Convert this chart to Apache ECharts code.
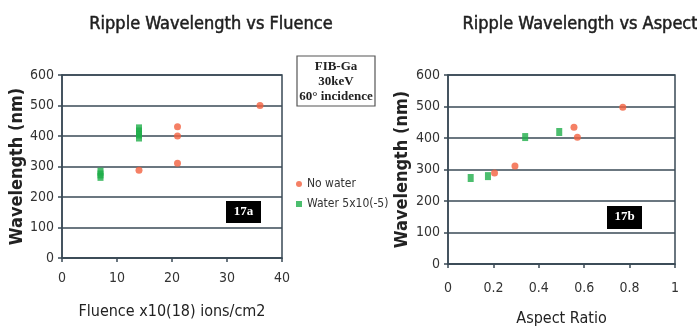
<!DOCTYPE html>
<html><head><meta charset="utf-8">
<script src="https://cdn.jsdelivr.net/npm/echarts@6/dist/echarts.min.js"></script>
<style>html,body{margin:0;padding:0;background:#fff}#c{width:697px;height:332px}</style>
</head><body><div id="c"></div>
<script>
// Left chart: Fluence
const fluenceNoWater = [[14,288],[21,311],[21,400],[21,430],[36,500]];
const fluenceWater = [[7,266],[7,274],[7,283],[14,395],[14,405],[14,415],[14,425]];
// Right chart: Aspect Ratio
const aspectNoWater = [[0.205,289],[0.295,311],[0.555,434],[0.57,402],[0.77,498]];
const aspectWater = [[0.10,273],[0.176,279],[0.34,403],[0.49,419]];
const yTicks = [0,100,200,300,400,500,600];

const F = '"Liberation Sans Narrow","DejaVu Sans Condensed","Liberation Sans",sans-serif';
const lineC = '#3a4a56';
const red = '#f2603e', green = '#1fae4a';

const chart = echarts.init(document.getElementById('c'));
function xAxis(idx, min, max, interval, name, nameGap, margin) {
  return {gridIndex: idx, type:'value', min, max, interval, name, nameLocation:'middle', nameGap,
    nameTextStyle:{fontFamily:F, fontSize:16, color:'#222'},
    axisLine:{show:true, onZero:false, lineStyle:{color:lineC, width:1.5}},
    axisTick:{show:true, length:4, lineStyle:{color:lineC, width:1.5}},
    axisLabel:{fontFamily:F, fontSize:14, color:'#333', margin},
    splitLine:{show:false}};
}
function yAxis(idx, nameGap) {
  return {gridIndex: idx, type:'value', min:yTicks[0], max:yTicks[yTicks.length-1], interval:100, name:'Wavelength (nm)', nameLocation:'middle', nameGap,
    nameTextStyle:{fontFamily:F, fontSize:18, fontWeight:'bold', color:'#222'},
    axisLine:{show:true, lineStyle:{color:lineC, width:1.5}},
    axisTick:{show:true, length:4, lineStyle:{color:lineC, width:1.5}},
    axisLabel:{fontFamily:F, fontSize:14, color:'#333', margin:8},
    splitLine:{show:true, lineStyle:{color:lineC, width:1.5}}};
}
const titleStyle = {fontFamily:F, fontSize:18, fontWeight:'normal', color:'#1e1e1e', textBorderColor:'#1e1e1e', textBorderWidth:0.5};
chart.setOption({
  animation:false,
  title:[
    {text:'Ripple Wavelength vs Fluence', left:206, top:10, textAlign:'center', textStyle:titleStyle},
    {text:'Ripple Wavelength vs Aspect', left:575, top:10, textAlign:'center', textStyle:titleStyle}
  ],
  grid:[
    {left:62, top:75, width:220, height:183, show:true, borderColor:lineC, borderWidth:1.5},
    {left:448, top:75, width:227, height:189, show:true, borderColor:lineC, borderWidth:1.5}
  ],
  xAxis:[xAxis(0,0,40,10,'Fluence x10(18) ions/cm2',46,13), xAxis(1,0,1,0.2,'Aspect Ratio',47,17)],
  yAxis:[yAxis(0,36), yAxis(1,37)],
  legend:{left:291, top:173, orient:'vertical', itemWidth:6, itemHeight:6, itemGap:8,
    textStyle:{fontFamily:F, fontSize:12, color:'#333'},
    data:[{name:'No water', icon:'circle'},{name:'Water 5x10(-5)', icon:'rect'}]},
  series:[
    {name:'No water', type:'scatter', xAxisIndex:0, yAxisIndex:0, data:fluenceNoWater, symbol:'circle', symbolSize:7, itemStyle:{color:red}},
    {name:'Water 5x10(-5)', type:'scatter', xAxisIndex:0, yAxisIndex:0, data:fluenceWater, symbol:'rect', symbolSize:[6,8], itemStyle:{color:green}},
    {name:'No water', type:'scatter', xAxisIndex:1, yAxisIndex:1, data:aspectNoWater, symbol:'circle', symbolSize:7, itemStyle:{color:red}},
    {name:'Water 5x10(-5)', type:'scatter', xAxisIndex:1, yAxisIndex:1, data:aspectWater, symbol:'rect', symbolSize:[6,8], itemStyle:{color:green}}
  ],
  graphic:[
    {type:'rect', shape:{x:297, y:56, width:78, height:50}, style:{fill:'#fff', stroke:'#555', lineWidth:1.2}},
    {type:'text', x:336, y:59, style:{text:'FIB-Ga\n30keV\n60° incidence', textAlign:'center', font:'bold 13px "Liberation Serif","DejaVu Serif",serif', fill:'#222', lineHeight:15}},
    {type:'rect', shape:{x:226, y:201, width:35, height:22}, style:{fill:'#000'}},
    {type:'text', x:243.5, y:205, style:{text:'17a', textAlign:'center', font:'bold 13px "Liberation Serif",serif', fill:'#fff'}},
    {type:'rect', shape:{x:607, y:206, width:35, height:23}, style:{fill:'#000'}},
    {type:'text', x:624.5, y:210, style:{text:'17b', textAlign:'center', font:'bold 13px "Liberation Serif",serif', fill:'#fff'}}
  ]
});
</script></body></html>
